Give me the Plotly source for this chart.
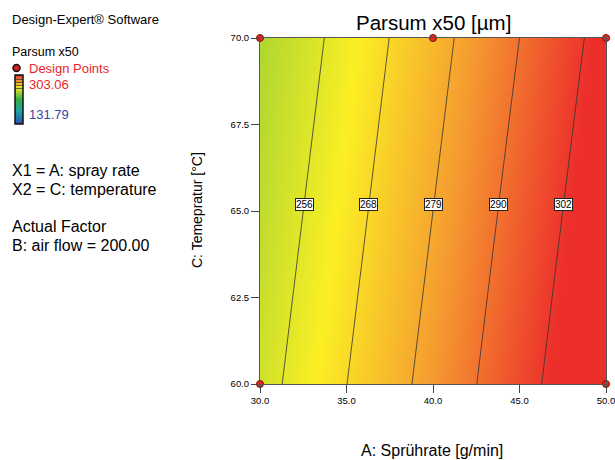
import numpy as np
import plotly.graph_objects as go

# ---- data ----
spray_rate = [30.0, 35.0, 40.0, 45.0, 50.0]          # A: g/min
temperature = [60.0, 65.0, 70.0]                     # C: °C
parsum_x50 = [                                       # rows follow temperature
    [252.3, 267.5, 282.7, 297.9, 313.1],
    [248.6, 263.8, 279.0, 294.2, 309.4],
    [244.9, 260.1, 275.3, 290.4, 305.6],
]
contour_levels = [256.2, 267.6, 279.0, 290.4, 301.8]
label_temperature = 65.2
design_x = [30, 40, 50, 30, 50]
design_y = [70, 70, 70, 60, 60]
z_min, z_max = 131.79, 303.06
x_ticks = [30, 35, 40, 45, 50]
y_ticks = [60, 62.5, 65, 67.5, 70]

W, H = 615, 460
L, R, T, B = 260, 9, 38, 76
PW, PH = W - L - R, H - T - B


def px(x):
    return (x - L) / PW


def py(y):
    return (H - B - y) / PH


FONT = "Liberation Sans, Arial, sans-serif"

colorscale = [
    [0.0, "#2f4fb0"],
    [0.25, "#1f9fa8"],
    [0.5, "#34b044"],
    [0.76, "#fbef24"],
    [0.88, "#f59a30"],
    [1.0, "#ec2f2b"],
]

fig = go.Figure()

fig.add_trace(go.Contour(
    x=spray_rate, y=temperature, z=parsum_x50,
    zmin=z_min, zmax=z_max, zauto=False,
    colorscale=colorscale,
    contours=dict(start=contour_levels[0], end=contour_levels[-1],
                  size=round(contour_levels[1] - contour_levels[0], 3),
                  coloring="heatmap", showlabels=False),
    line=dict(color="#333333", width=0.8),
    showscale=True,
    colorbar=dict(
        x=px(15), xanchor="left", y=py(75), yanchor="top",
        lenmode="pixels", len=49, thickness=8,
        xpad=0, ypad=0, outlinewidth=1.5, outlinecolor="#111111",
        showticklabels=False, ticks="",
    ),
    hoverinfo="skip",
))

fig.add_trace(go.Scatter(
    x=design_x, y=design_y, mode="markers",
    marker=dict(color="#e8261f", size=7, line=dict(color="#7a1010", width=1)),
    cliponaxis=False, showlegend=False, hoverinfo="skip",
))

annotations = []
# contour labels: position each on its line at the label temperature
arr = np.array(parsum_x50)
row = [float(np.interp(label_temperature, temperature, arr[:, j]))
       for j in range(len(spray_rate))]
for lev in contour_levels:
    xl = float(np.interp(lev, row, spray_rate))
    annotations.append(dict(
        x=xl, y=label_temperature, xref="x", yref="y",
        text=f"{lev:.0f}", showarrow=False,
        font=dict(family=FONT, size=10, color="black"),
        bgcolor="white", bordercolor="#222222", borderwidth=1, borderpad=0,
    ))


def txt(x, y, s, size, color="black", xanchor="left", angle=0):
    annotations.append(dict(
        x=px(x), y=py(y), xref="paper", yref="paper", text=s,
        showarrow=False, xanchor=xanchor, yanchor="middle", textangle=angle,
        font=dict(family=FONT, size=size, color=color),
    ))


txt(10, 20, "Design-Expert® Software", 13)
txt(10, 52, "Parsum x50", 12.5)
txt(27, 68, "Design Points", 13, color="#e8262a")
txt(27, 84, "303.06", 13, color="#e8262a")
txt(27, 114, "131.79", 13, color="#3a44a0")
txt(10, 170, "X1 = A: spray rate", 16)
txt(10, 189, "X2 = C: temperature", 16)
txt(10, 226, "Actual Factor", 16)
txt(10, 245, "B: air flow = 200.00", 16)
txt(433, 22, "Parsum x50 [µm]", 20.5, xanchor="center")
txt(432, 450, "A: Sprührate [g/min]", 16, xanchor="center")
txt(197, 210, "C: Temepratur [°C]", 14, xanchor="center", angle=-90)

shapes = [dict(
    type="circle", xref="paper", yref="paper",
    x0=px(13), x1=px(20), y0=py(64.5), y1=py(71.5),
    fillcolor="#d02020", line=dict(color="#111111", width=1.5),
)]

axis_common = dict(
    showgrid=False, zeroline=False, showline=True, linecolor="#555555",
    linewidth=1, mirror=True, ticks="outside", ticklen=8, tickwidth=1,
    tickcolor="#444444", tickformat=".1f", ticklabeloverflow="allow",
    automargin=False,
    tickfont=dict(family=FONT, size=9.5, color="black"),
)

fig.update_layout(
    width=W, height=H, margin=dict(l=L, r=R, t=T, b=B, autoexpand=False),
    paper_bgcolor="white", plot_bgcolor="white",
    xaxis=dict(range=[30, 50], tickvals=x_ticks, **axis_common),
    yaxis=dict(range=[60, 70], tickvals=y_ticks, **axis_common),
    annotations=annotations, shapes=shapes, showlegend=False,
)

fig.write_html("out.html")
